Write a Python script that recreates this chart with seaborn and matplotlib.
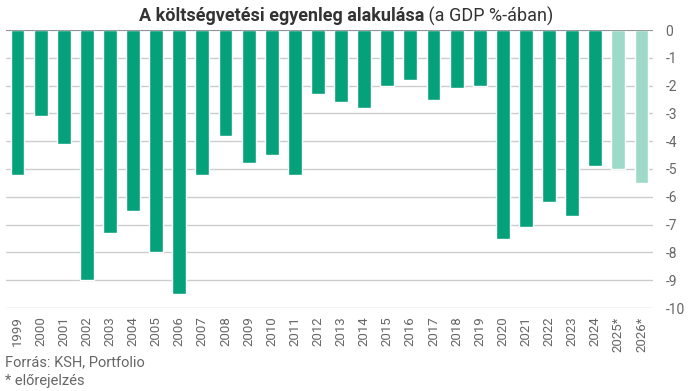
import matplotlib
matplotlib.use("Agg")
import matplotlib.pyplot as plt
import seaborn as sns
import pandas as pd

# Adatok (GDP %-ában)
years = ['1999', '2000', '2001', '2002', '2003', '2004', '2005', '2006', '2007',
         '2008', '2009', '2010', '2011', '2012', '2013', '2014', '2015', '2016',
         '2017', '2018', '2019', '2020', '2021', '2022', '2023', '2024',
         '2025*', '2026*']
balance = [-5.2, -3.1, -4.1, -9.0, -7.3, -6.5, -8.0, -9.5, -5.2,
           -3.8, -4.8, -4.5, -5.2, -2.3, -2.6, -2.8, -2.0, -1.8,
           -2.5, -2.1, -2.0, -7.5, -7.1, -6.2, -6.7, -4.9,
           -5.0, -5.5]
forecast = [y.endswith('*') for y in years]
y_ticks = [0, -1, -2, -3, -4, -5, -6, -7, -8, -9, -10]

GREEN = '#04a17b'
LIGHT = '#9ddbc8'
GRAY_TXT = '#666666'

df = pd.DataFrame({'year': years, 'value': balance,
                   'kind': ['előrejelzés' if f else 'tény' for f in forecast]})

sns.set_style('white')
plt.rcParams['font.family'] = ['Roboto', 'DejaVu Sans']
plt.rcParams['axes.unicode_minus'] = False

fig = plt.figure(figsize=(6.88, 3.91), dpi=100)
W, H = 688, 391
ax = fig.add_axes([6 / W, 1 - 308 / H, (653 - 6) / W, (308 - 30) / H])

sns.barplot(data=df, x='year', y='value', hue='kind',
            palette={'tény': GREEN, 'előrejelzés': LIGHT},
            width=0.6, saturation=1, legend=False, ax=ax, zorder=2)

ax.set_axisbelow(True)
ax.set_xlim(-0.5, len(years) - 0.5)
ax.set_ylim(-10, 0)
ax.set_yticks(y_ticks)
ax.set_yticklabels([str(t) for t in y_ticks])
ax.yaxis.tick_right()
ax.grid(axis='y', color='#cccccc', linewidth=1, zorder=0)
ax.axhline(0, color='#888888', linewidth=1.2, zorder=3)
for s in ax.spines.values():
    s.set_visible(False)
ax.tick_params(axis='y', length=0, pad=9, labelsize=10, labelcolor=GRAY_TXT)
ax.tick_params(axis='x', length=0, pad=6, labelsize=9.5, labelcolor=GRAY_TXT,
               rotation=90)
ax.set_xlabel('')
ax.set_ylabel('')

# Cím: félkövér + normál rész
fig.canvas.draw()
r = fig.canvas.get_renderer()
t1 = fig.text(0, 1 - 16 / H, 'A költségvetési egyenleg alakulása',
              fontsize=13, fontweight='bold', color='#333333',
              va='center', ha='left')
t2 = fig.text(0, 1 - 16 / H, ' (a GDP %-ában)', fontsize=13,
              color='#333333', va='center', ha='left')
w1 = t1.get_window_extent(r).width
w2 = t2.get_window_extent(r).width
x0 = 346 - (w1 + w2) / 2
t1.set_x(x0 / W)
t2.set_x((x0 + w1) / W)

fig.text(5 / W, 1 - 362 / H, 'Forrás: KSH, Portfolio', fontsize=10.5,
         color=GRAY_TXT, va='center', ha='left')
fig.text(5 / W, 1 - 381 / H, '* előrejelzés', fontsize=10.5,
         color=GRAY_TXT, va='center', ha='left')

fig.savefig('out.png', dpi=100)
